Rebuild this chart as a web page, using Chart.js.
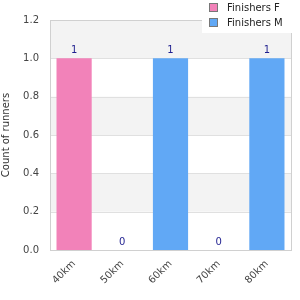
<!DOCTYPE html>
<html>
<head>
<meta charset="utf-8">
<script src="https://cdn.jsdelivr.net/npm/chart.js@4"></script>
<style>
  html, body { margin: 0; padding: 0; background: #fff; }
  #wrap { width: 300px; height: 300px; }
</style>
</head>
<body>
<div id="wrap"><canvas id="chart1" width="300" height="300"></canvas></div>
<script>
const distances = ['40km', '50km', '60km', '70km', '80km'];
const finishersF = [1, 0, 0, 0, 0];
const finishersM = [0, 0, 1, 0, 1];
const totals = [1, 0, 1, 0, 1];
const yTicks = [0, 0.2, 0.4, 0.6, 0.8, 1.0, 1.2];

const FONT = 'DejaVu Sans';

// grey bands between every other pair of ticks, plus the frame
const bands = {
  id: 'bands',
  beforeDatasetsDraw(chart) {
    const { ctx, chartArea: a, scales: { y } } = chart;
    ctx.save();
    ctx.fillStyle = '#f3f3f3';
    for (let i = 1; i < yTicks.length - 1; i += 2) {
      const top = y.getPixelForValue(yTicks[i + 1]);
      const bot = y.getPixelForValue(yTicks[i]);
      ctx.fillRect(a.left, top, a.right - a.left, bot - top);
    }
    ctx.strokeStyle = '#e0e0e0';
    ctx.lineWidth = 1;
    yTicks.forEach(v => {
      const py = Math.round(y.getPixelForValue(v)) + 0.5;
      ctx.beginPath();
      ctx.moveTo(a.left, py);
      ctx.lineTo(a.right, py);
      ctx.stroke();
    });
    ctx.strokeStyle = '#d0d0d0';
    ctx.strokeRect(Math.round(a.left) + 0.5, Math.round(a.top) + 0.5,
      Math.round(a.right - a.left), Math.round(a.bottom - a.top));
    ctx.restore();
  }
};

// value labels above each column, and the legend box
const labels = {
  id: 'labels',
  afterDatasetsDraw(chart) {
    const { ctx, scales: { x, y } } = chart;
    ctx.save();
    ctx.font = '10px ' + FONT;
    ctx.fillStyle = '#1f1f8f';
    ctx.textAlign = 'center';
    ctx.textBaseline = 'bottom';
    totals.forEach((v, i) => {
      ctx.fillText(String(v), x.getPixelForValue(i), y.getPixelForValue(v) - 3);
    });

    // legend
    ctx.fillStyle = '#ffffff';
    ctx.fillRect(202, 0, 90, 33);
    ctx.textAlign = 'left';
    ctx.textBaseline = 'middle';
    chart.data.datasets.forEach((ds, i) => {
      const cy = 8 + i * 15;
      ctx.fillStyle = ds.backgroundColor;
      ctx.fillRect(209.5, cy - 4.5, 8, 8);
      ctx.strokeStyle = '#777';
      ctx.strokeRect(209.5, cy - 4.5, 8, 8);
      ctx.fillStyle = '#222';
      ctx.fillText(ds.label, 227, cy);
    });
    ctx.restore();
  }
};

new Chart(document.getElementById('chart1'), {
  type: 'bar',
  data: {
    labels: distances,
    datasets: [
      { label: 'Finishers F', data: finishersF, backgroundColor: 'rgb(242, 130, 185)' },
      { label: 'Finishers M', data: finishersM, backgroundColor: 'rgb(97, 168, 245)' }
    ]
  },
  options: {
    responsive: false,
    animation: false,
    devicePixelRatio: 1,
    layout: { padding: { top: 20, right: 9, left: 0, bottom: 0 } },
    datasets: { bar: { barPercentage: 0.73, categoryPercentage: 1 } },
    plugins: { legend: { display: false }, tooltip: { enabled: false } },
    scales: {
      x: {
        stacked: true,
        grid: { display: false },
        border: { display: false },
        ticks: {
          maxRotation: 45, minRotation: 45,
          color: '#444', font: { family: FONT, size: 10 }, padding: 0
        },
        afterFit(s) { s.height = 50; }
      },
      y: {
        stacked: true,
        min: 0, max: 1.2,
        grid: { display: false },
        border: { display: false },
        ticks: {
          stepSize: 0.2,
          color: '#444', font: { family: FONT, size: 10 }, padding: 3,
          callback: v => v.toFixed(1)
        },
        title: {
          display: true, text: 'Count of runners',
          color: '#333', font: { family: FONT, size: 10 }, padding: 0
        },
        afterFit(s) { s.width = 50; }
      }
    }
  },
  plugins: [bands, labels]
});
</script>
</body>
</html>
